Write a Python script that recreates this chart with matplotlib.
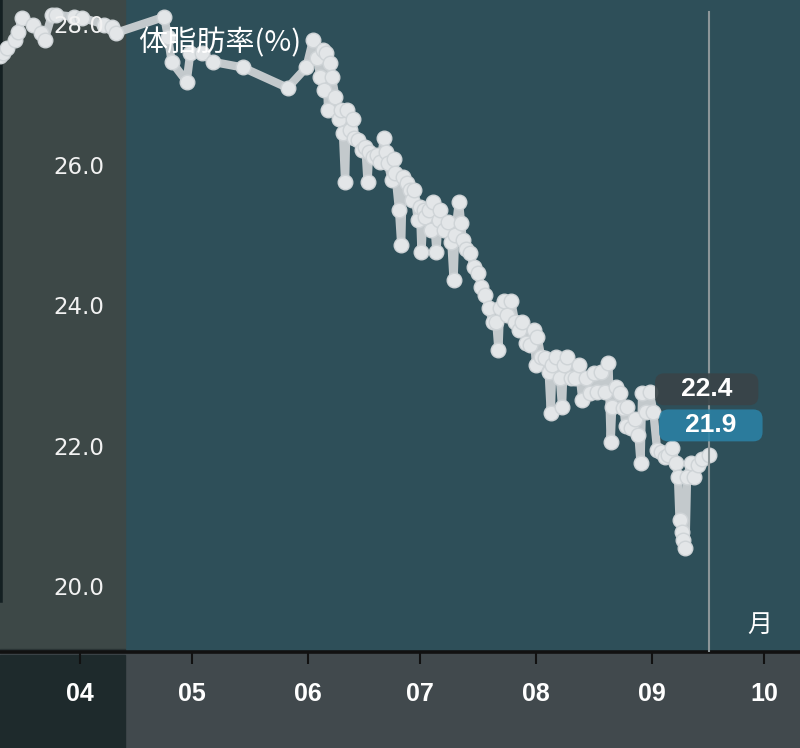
import pandas as pd
import matplotlib.pyplot as plt
import matplotlib.dates as mdates
from matplotlib.patches import Rectangle
from matplotlib.transforms import blended_transform_factory

plt.rcParams['font.family'] = ['Noto Sans CJK JP', 'DejaVu Sans']

# ==========================================
# 1. DATA
# ==========================================
# "MM-DD HH" -> 07 = morning reading, 21 = evening reading
dates = [
    '03-10 12', '03-11 12', '03-12 12', '03-14 12', '03-15 12', '03-16 12',
    '03-19 12', '03-21 12', '03-22 12', '03-24 12', '03-25 12', '03-30 12',
    '04-01 12', '04-07 12', '04-09 12', '04-10 12', '04-23 12', '04-24 12',
    '04-25 12', '04-29 12', '04-30 12', '05-03 12', '05-06 12', '05-14 12',
    '05-26 12', '05-31 12',
    '06-02 07', '06-03 07', '06-04 07', '06-04 21', '06-05 07', '06-05 21',
    '06-06 07', '06-06 21', '06-07 07', '06-08 07', '06-09 07', '06-09 21',
    '06-10 07', '06-10 21', '06-11 07', '06-12 07', '06-12 21', '06-13 07',
    '06-14 07', '06-15 07', '06-16 07', '06-16 21', '06-17 07', '06-18 07',
    '06-19 07', '06-20 07', '06-21 07', '06-21 21', '06-22 07', '06-23 07',
    '06-23 21', '06-24 07', '06-25 07', '06-25 21', '06-26 07', '06-27 07',
    '06-28 07', '06-28 21', '06-29 07', '06-30 07', '06-30 21',
    '07-01 07', '07-01 21', '07-02 07', '07-03 07', '07-03 21', '07-04 07',
    '07-05 07', '07-05 21', '07-06 07', '07-07 07', '07-08 07', '07-09 07',
    '07-09 21', '07-10 07', '07-11 07', '07-11 21', '07-12 07', '07-13 07',
    '07-14 07', '07-15 07', '07-16 07', '07-17 07', '07-18 07', '07-19 07',
    '07-20 07', '07-21 07', '07-21 21', '07-22 07', '07-23 07', '07-24 07',
    '07-25 07', '07-26 07', '07-27 07', '07-28 07', '07-29 07', '07-30 07',
    '07-31 07', '07-31 21',
    '08-01 07', '08-02 07', '08-03 07', '08-04 07', '08-04 21', '08-05 07',
    '08-06 07', '08-07 07', '08-07 21', '08-08 07', '08-09 07', '08-10 07',
    '08-11 07', '08-12 07', '08-13 07', '08-14 07', '08-15 07', '08-16 07',
    '08-17 07', '08-18 07', '08-19 07', '08-20 07', '08-20 21', '08-21 07',
    '08-22 07', '08-23 07', '08-24 07', '08-24 21', '08-25 07', '08-26 07',
    '08-27 07', '08-28 07', '08-28 21', '08-29 07', '08-30 07', '08-31 07',
    '09-01 07', '09-02 07', '09-03 07', '09-04 07', '09-05 07', '09-06 07',
    '09-07 07', '09-07 21', '09-08 07', '09-08 21', '09-09 07', '09-09 21',
    '09-10 07', '09-11 07', '09-12 07', '09-13 07', '09-14 07', '09-16 07',
]
values = [
    27.58, 27.63, 27.70, 27.81, 27.93, 28.13,
    28.03, 27.91, 27.81, 28.17, 28.17, 28.14,
    28.13, 28.03, 28.00, 27.91, 28.14, 27.86,
    27.50, 27.22, 27.63, 27.63, 27.50, 27.42,
    27.13, 27.42,
    27.81, 27.56, 27.29, 27.67, 27.10, 27.63,
    26.82, 27.49, 27.29, 27.00, 26.68, 26.82,
    26.49, 25.79, 26.82, 26.53, 26.68, 26.42,
    26.39, 26.25, 26.29, 25.79, 26.21, 26.14,
    26.18, 26.08, 26.42, 26.21, 26.06, 25.82,
    26.11, 25.92, 25.39, 24.90, 25.86, 25.78,
    25.68, 25.54, 25.68, 25.25, 25.44,
    24.80, 25.39, 25.29, 25.39, 25.11, 25.51,
    24.80, 25.25, 25.39, 25.11, 25.22, 24.93,
    24.40, 25.04, 25.51, 25.21, 24.97, 24.83,
    24.78, 24.58, 24.50, 24.30, 24.18, 24.00,
    23.80, 23.80, 23.40, 24.00, 24.09, 23.90,
    24.09, 23.80, 23.69, 23.80, 23.50, 23.47,
    23.69, 23.19,
    23.59, 23.30, 23.29, 23.09, 22.50, 23.19,
    23.30, 23.00, 22.59, 23.19, 23.30, 23.00,
    23.00, 23.19, 22.69, 23.00, 22.79, 23.07,
    22.80, 23.09, 22.80, 23.22, 22.09, 22.59,
    22.87, 22.79, 22.58, 22.31, 22.59, 22.29,
    22.41, 22.19, 21.79, 22.79, 22.52, 22.80,
    22.52, 21.98, 21.94, 21.88, 21.91, 22.01,
    21.79, 21.59, 20.98, 20.81, 20.70, 20.58,
    21.59, 21.79, 21.59, 21.76, 21.84, 21.91,
]
y_ticks = [20.0, 22.0, 24.0, 26.0, 28.0]
badge_values = [22.4, 21.9]
title = '体脂肪率(%)'
unit = '月'

x = pd.to_datetime(['2023-' + d for d in dates], format='%Y-%m-%d %H')
start = mdates.date2num(pd.Timestamp('2023-04-01'))

# ==========================================
# 2. FIGURE
# ==========================================
fig = plt.figure(figsize=(8, 7.48), dpi=100)
fig.patch.set_facecolor('#41494d')
fig.patches.append(Rectangle((0, 0), 125 / 800, 93 / 748, transform=fig.transFigure,
                             color='#1e2a2c', zorder=-1))

ax = fig.add_axes([0, 96 / 748, 1, 652 / 748])
ax.set_facecolor('#2e4f59')
ax.set_xlim(start - 21.4, start + 192.5)
ax.set_ylim(19.10, 28.38)

# left label panel
ax.add_patch(Rectangle((0, 0), 125 / 800, 1, transform=ax.transAxes,
                       color='#3d4847', zorder=0.5))
ax.add_patch(Rectangle((0, 0), 125 / 800, 3 / 652, transform=ax.transAxes,
                       color='#2a3435', zorder=0.6))
ax.axvline(ax.get_xlim()[0], ymin=1 - 600 / 652, ymax=1, color='#142022', lw=4, zorder=1)

# series
ax.plot(x, values, color='#c3c9cc', lw=6, marker='o', ms=10.5,
        mfc='#e3e6e8', mec='#cfd4d7', mew=1, zorder=3,
        solid_joinstyle='round', solid_capstyle='round')

# cursor
ax.axvline(x[-1], ymin=0, ymax=1 - 12 / 652, color='#8c9699', lw=1.5, zorder=4)

ax.annotate(f'   {badge_values[0]:.1f}   ', xy=(x[-1], values[-1]), xytext=(-2, 47),
            textcoords='offset points', ha='center', va='center',
            fontsize=19, fontweight='bold', color='white', family=['Liberation Sans'],
            bbox=dict(boxstyle='round,pad=0.15,rounding_size=0.35', fc='#394448',
                      ec='none', alpha=0.92), zorder=6)
ax.annotate(f'   {badge_values[1]:.1f}   ', xy=(x[-1], values[-1]), xytext=(1, 21),
            textcoords='offset points', ha='center', va='center',
            fontsize=19, fontweight='bold', color='white', family=['Liberation Sans'],
            bbox=dict(boxstyle='round,pad=0.15,rounding_size=0.35', fc='#2b84a8',
                      ec='none', alpha=0.85), zorder=6)

# y labels inside the left panel
tr = blended_transform_factory(ax.transAxes, ax.transData)
for v in y_ticks:
    ax.text(104 / 800, v, f'{v:.1f}', transform=tr, ha='right', va='center',
            color='#f2f2f2', fontsize=16.5, family=['DejaVu Sans'], zorder=5)

ax.text(138 / 800, 1 - 43 / 652, title, transform=ax.transAxes, ha='left', va='center',
        color='white', fontsize=21, zorder=5)
ax.text(760 / 800, 1 - 625 / 652, unit, transform=ax.transAxes, ha='center', va='center',
        color='white', fontsize=18, zorder=5)

# axes styling
ax.set_yticks([])
for s in ['left', 'top', 'right']:
    ax.spines[s].set_visible(False)
ax.spines['bottom'].set_color('#111111')
ax.spines['bottom'].set_linewidth(2.6)
ax.xaxis.set_major_locator(mdates.MonthLocator())
ax.xaxis.set_major_formatter(mdates.DateFormatter('%m'))
ax.tick_params(axis='x', direction='out', length=8.5, width=1.5, color='#111111',
               labelcolor='white', labelsize=18, pad=13)
for lbl in ax.get_xticklabels():
    lbl.set_family(['Liberation Sans'])
    lbl.set_fontweight('bold')

fig.savefig('out.png', dpi=100, facecolor=fig.get_facecolor())
